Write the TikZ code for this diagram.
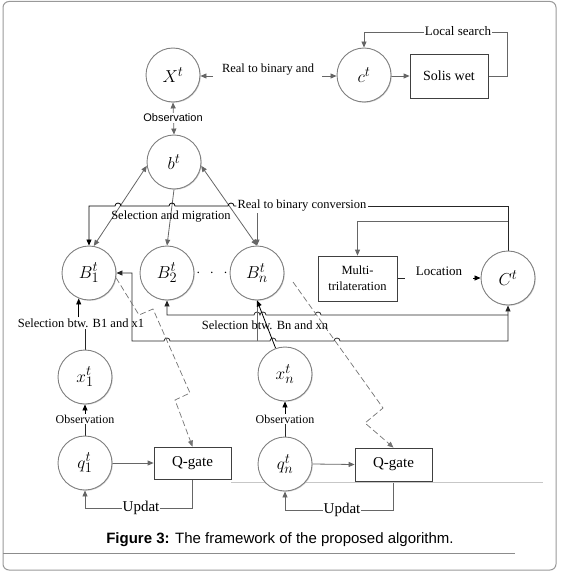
\documentclass[tikz,border=0pt]{standalone}
\usepackage{fontspec}
\setmainfont{Liberation Serif}
\newfontfamily\arialfont{Liberation Sans}
\usetikzlibrary{arrows.meta,shadows}
\pgfdeclarelayer{bg}
\pgfsetlayers{bg,main}
\begin{document}
\begin{tikzpicture}[x=1pt,y=-1pt,>={Triangle[length=6pt,width=5pt]},
  state/.style={circle,draw=black!50,line width=0.9pt,fill=white,minimum size=54pt,inner sep=0pt,font=\fontsize{19}{22}\selectfont,
    drop shadow={shadow xshift=0.8pt,shadow yshift=-0.8pt,fill=black!30,opacity=0.6}},
  procbox/.style={rectangle,draw=black!75,line width=0.8pt,fill=white,inner sep=0pt,font=\fontsize{14}{16}\selectfont},
  lbl/.style={inner sep=1pt,font=\fontsize{12.5}{14}\selectfont},
  garr/.style={draw=black!60,line width=0.8pt,->},
  barr/.style={draw=black,line width=0.8pt,->},
  gline/.style={draw=black!60,line width=0.8pt},
  bline/.style={draw=black!85,line width=0.8pt},
  dline/.style={draw=black!55,line width=0.7pt,dash pattern=on 6pt off 3pt,->},
]
\useasboundingbox (0,0) rectangle (563,572);
\draw[black!40,line width=1pt,rounded corners=6pt] (3,1.5) rectangle (556,570);
\draw[black!45,line width=0.8pt] (3,553) -- (515,553);

% nodes
\node[state] (X) at (173,75) {$X^t$};
\node[state] (c) at (364,75) {$c^t$};
\node[procbox,minimum width=78pt,minimum height=44pt] (solis) at (449,76) {Solis wet};
\node[state] (b) at (174,162) {$b^t$};
\node[state] (B1) at (89,273) {$B_1^t$};
\node[state] (B2) at (167,273) {$B_2^t$};
\node[state] (Bn) at (257,273) {$B_n^t$};
\node[font=\fontsize{15}{16}\selectfont] (dots) at (212,273) {$\cdot\;\,\cdot\;\,\cdot$};
\node[state] (C) at (508,278) {$C^t$};
\node[procbox,minimum width=79pt,minimum height=45pt,align=center,font=\fontsize{12.5}{16}\selectfont] (multi) at (357.5,278.5) {Multi-\\trilateration};
\node[state] (x1) at (85,377) {$x_1^t$};
\node[state] (xn) at (285,374) {$x_n^t$};
\node[state] (q1) at (85,463) {$q_1^t$};
\node[state] (qn) at (285,464) {$q_n^t$};
\node[procbox,minimum width=77pt,minimum height=32pt,font=\fontsize{15}{17}\selectfont] (qg1) at (192.5,463) {Q-gate};
\node[procbox,minimum width=77pt,minimum height=33pt,font=\fontsize{15}{17}\selectfont] (qg2) at (393.5,464.5) {Q-gate};

% labels
\node[lbl,font=\arialfont\fontsize{11}{13}\selectfont,fill=white] (obsX) at (173,118) {Observation};
\node[lbl] (rtba) at (268,70) {Real to binary and};
\node[lbl,fill=white,font=\fontsize{13}{15}\selectfont] (ls) at (458,31) {Local search};
\node[lbl] (selmig) at (171,217) {Selection and migration};
\node[lbl,fill=white] (rtbc) at (302,206) {Real to binary conversion};
\node[lbl,font=\fontsize{13}{15}\selectfont] (loc) at (439,271) {Location};
\node[lbl] (sel1) at (81,323) {Selection btw. B1 and x1};
\node[lbl] (seln) at (265,325) {Selection btw. Bn and xn};
\node[lbl,font=\fontsize{12}{14}\selectfont] (obs1) at (85,419) {Observation};
\node[lbl,font=\fontsize{12}{14}\selectfont] (obsn) at (285,419) {Observation};
\node[lbl,font=\fontsize{15}{17}\selectfont,fill=white] (upd1) at (141,508) {Updat};
\node[lbl,font=\fontsize{15}{17}\selectfont,fill=white] (updn) at (342,510) {Updat};
\node[font=\arialfont\fontsize{15}{18}\selectfont] (cap) at (280,540) {\textbf{Figure 3:} The framework of the proposed algorithm.};

\coordinate (ra1) at (213,76);
\coordinate (ra2) at (322,76);
\coordinate (dn0) at (293,282);

\begin{pgfonlayer}{bg}
% top row
\draw[garr] (ra1) -- (X.east |- ra1);
\draw[garr] (ra2) -- (c.west |- ra2);
\draw[garr] (c.east |- solis.west) -- (solis.west);
\draw[garr] (solis.east) -- (507,76) -- (507,32) -- (c.north |- 0,32) -- (c.north);
\draw[gline,<->] (X.south) -- (b.north);
% b to B's
\draw[gline,<->] (b.188) -- (B1.80);
\draw[garr] (b.south) -- (B2.north);
\draw[gline,<->] (b.-8) -- (Bn.north);
% real to binary conversion
\draw[bline] (C.north) -- (C.north |- rtbc) -- (rtbc.east);
\draw[barr] (rtbc.west) -- (234,206) arc[start angle=0,end angle=180,radius=3pt]
  -- (175,206) arc[start angle=0,end angle=180,radius=3pt]
  -- (121,206) arc[start angle=0,end angle=180,radius=3pt]
  -- (B1.north |- rtbc) -- (B1.north);
\draw[garr] (rtbc.south -| Bn.north) -- (Bn.north);
\draw[garr] (C.north |- 0,221) -- (multi.north |- 0,221) -- (multi.north);
\draw[bline] (multi.east) -- ++(8,0);
\draw[barr] (473,278) -- (C.west);
% lower connections
\draw[bline,<->] (B1.east) -- (132,273) -- (132,341)
  -- (164,341) arc[start angle=180,end angle=0,radius=3pt]
  -- (270,341) arc[start angle=180,end angle=0,radius=3pt]
  -- (334,341) arc[start angle=180,end angle=0,radius=3pt]
  -- (C.south |- 0,341) -- (C.south);
\draw[bline,<-] (B2.south) -- (B2.south |- 0,315)
  -- (254,315) arc[start angle=180,end angle=0,radius=3pt]
  arc[start angle=180,end angle=0,radius=3pt]
  -- (315,315) arc[start angle=180,end angle=0,radius=3pt]
  -- (C.south |- 0,315);
\draw[gline] (Bn.south) -- (Bn.south |- 0,341);
\draw[barr] (xn.110) -- (Bn.south);
% dashed
\draw[dline] (B1.-10) -- (139,315) -- (153,309) -- (190,393) -- (175,400) -- (qg1.north);
\draw[dline] (dn0) -- (383,408) -- (365,423) -- (qg2.north);
% x / q
\draw[bline] (x1.north) -- (x1.north |- sel1.south);
\draw[barr] (sel1.north -| B1.248) -- (B1.248);
\draw[bline] (q1.north) -- (obs1.south);
\draw[barr] (obs1.north) -- (x1.south);
\draw[bline] (qn.north) -- (obsn.south);
\draw[barr] (obsn.north) -- (xn.south);
\draw[garr] (q1.east) -- (qg1.west);
\draw[garr] (qn.east) -- (qg2.west);
\draw[garr] (qg1.south) -- (qg1.south |- upd1) -- (q1.south |- upd1) -- (q1.south);
\draw[garr] (qg2.south) -- (qg2.south |- updn) -- (qn.south |- updn) -- (qn.south);
\draw[black!22,line width=0.6pt] (qg1.east |- 0,482) -- (543,482);
\end{pgfonlayer}
\end{tikzpicture}
\end{document}
